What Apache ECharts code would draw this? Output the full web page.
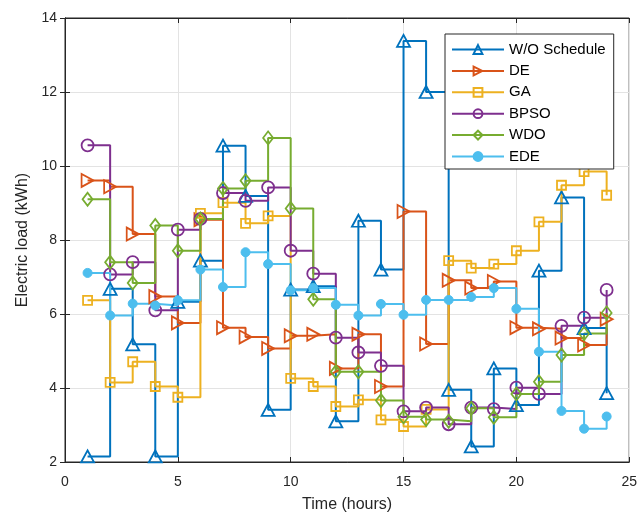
<!DOCTYPE html>
<html>
<head>
<meta charset="utf-8">
<script src="https://cdn.jsdelivr.net/npm/echarts@6/dist/echarts.min.js"></script>
<style>
  html, body { margin: 0; padding: 0; background: #fff; }
  #chart { width: 640px; height: 518px; }
</style>
</head>
<body>
<div id="chart"></div>
<script>
// hours 1..24
var hours = [1,2,3,4,5,6,7,8,9,10,11,12,13,14,15,16,17,18,19,20,21,22,23,24];

var woSchedule = [2.15, 6.68, 5.18, 2.15, 6.33, 7.44, 10.55, 9.19, 3.41, 6.66, 6.75, 3.1,
                  8.52, 7.2, 13.38, 12.0, 3.95, 2.42, 4.53, 3.54, 7.17, 9.15, 5.62, 3.86];
var de = [9.61, 9.44, 8.16, 6.47, 5.76, 8.55, 5.63, 5.38, 5.07, 5.41, 5.45, 4.53,
          5.45, 4.04, 8.77, 5.19, 6.91, 6.7, 6.88, 5.63, 5.6, 5.35, 5.16, 5.86];
var ga = [6.37, 4.15, 4.71, 4.04, 3.75, 8.72, 9.01, 8.45, 8.65, 4.26, 4.04, 3.5,
          3.68, 3.14, 2.96, 3.42, 7.44, 7.24, 7.35, 7.71, 8.49, 9.48, 9.85, 9.21];
var bpso = [10.56, 7.07, 7.4, 6.1, 8.28, 8.57, 9.27, 9.06, 9.42, 7.71, 7.09, 5.36,
            4.96, 4.6, 3.37, 3.47, 3.02, 3.47, 3.43, 4.01, 3.84, 5.68, 5.9, 6.65];
var wdo = [9.1, 7.4, 6.84, 8.39, 7.71, 8.57, 9.39, 9.6, 10.76, 8.85, 6.4, 4.44,
           4.44, 3.66, 3.22, 3.15, 3.1, 3.45, 3.21, 3.84, 4.17, 4.89, 5.47, 6.03];
var ede = [7.11, 5.96, 6.28, 6.23, 6.37, 7.2, 6.73, 7.67, 7.35, 6.64, 6.7, 6.25,
           5.96, 6.27, 5.98, 6.38, 6.38, 6.46, 6.7, 6.14, 4.98, 3.38, 2.9, 3.23];

var xTicks = [0, 5, 10, 15, 20, 25];
var yTicks = [2, 4, 6, 8, 10, 12, 14];

var font = 'Liberation Sans, Arial, Helvetica, sans-serif';
var ink = '#262626';

function pairs(vals) {
  return hours.map(function (h, i) { return [h, vals[i]]; });
}

// one stairs series (matlab style), hollow markers unless filled
function stairs(name, vals, color, symbol, size, rotate, filled) {
  return {
    name: name,
    type: 'line',
    step: 'end',
    data: pairs(vals),
    symbol: symbol,
    symbolSize: size,
    symbolRotate: rotate || 0,
    showAllSymbol: true,
    lineStyle: { color: color, width: 2 },
    itemStyle: filled
      ? { color: color, borderColor: color, borderWidth: 1 }
      : { color: 'rgba(0,0,0,0)', borderColor: color, borderWidth: 1.8 },
    emphasis: { disabled: true },
    animation: false
  };
}

var chart = echarts.init(document.getElementById('chart'));
chart.setOption({
  backgroundColor: '#fff',
  textStyle: { fontFamily: font },
  grid: {
    left: 65, right: 10, top: 18, bottom: 54,
    show: true, borderColor: ink, borderWidth: 1, backgroundColor: '#fff'
  },
  legend: {
    orient: 'vertical',
    left: 445, top: 34,
    backgroundColor: '#fff',
    borderColor: ink, borderWidth: 1, borderRadius: 0,
    padding: [8, 8, 5, 6],
    itemWidth: 52, itemHeight: 11, itemGap: 6.4,
    textStyle: { fontSize: 15, color: '#000', fontFamily: font },
    data: ['W/O Schedule', 'DE', 'GA', 'BPSO', 'WDO', 'EDE']
  },
  xAxis: [{
    type: 'value', min: xTicks[0], max: xTicks[xTicks.length - 1], interval: 5,
    name: 'Time (hours)', nameLocation: 'middle', nameGap: 35,
    nameTextStyle: { fontSize: 16, color: ink, fontFamily: font },
    axisLine: { show: true, lineStyle: { color: ink, width: 1 } },
    axisTick: { show: true, inside: true, length: 5, lineStyle: { color: ink } },
    axisLabel: { fontSize: 14, color: ink, margin: 13, fontFamily: font },
    splitLine: { show: true, lineStyle: { color: '#e3e3e3', width: 1 } }
  }, {
    type: 'value', position: 'top', min: 0, max: 25, interval: 5,
    axisLine: { show: true, lineStyle: { color: ink } },
    axisTick: { show: true, inside: true, length: 5, lineStyle: { color: ink } },
    axisLabel: { show: false }, splitLine: { show: false }
  }],
  yAxis: [{
    type: 'value', min: yTicks[0], max: yTicks[yTicks.length - 1], interval: 2,
    name: 'Electric load (kWh)', nameLocation: 'middle', nameGap: 34,
    nameTextStyle: { fontSize: 16, color: ink, fontFamily: font },
    axisLine: { show: true, lineStyle: { color: ink, width: 1 } },
    axisTick: { show: true, inside: true, length: 5, lineStyle: { color: ink } },
    axisLabel: { fontSize: 14, color: ink, margin: 8, fontFamily: font },
    splitLine: { show: true, lineStyle: { color: '#e3e3e3', width: 1 } }
  }, {
    type: 'value', position: 'right', min: 2, max: 14, interval: 2,
    axisLine: { show: true, lineStyle: { color: ink } },
    axisTick: { show: true, inside: true, length: 5, lineStyle: { color: ink } },
    axisLabel: { show: false }, splitLine: { show: false }
  }],
  series: [
    stairs('W/O Schedule', woSchedule, '#0072BD', 'triangle', [13, 12], 0, false),
    stairs('DE', de, '#D95319', 'triangle', [13, 12], -90, false),
    stairs('GA', ga, '#EDB120', 'rect', 9, 0, false),
    stairs('BPSO', bpso, '#7E2F8E', 'circle', 12, 0, false),
    stairs('WDO', wdo, '#77AC30', 'diamond', [10, 13], 0, false),
    stairs('EDE', ede, '#4DBEEE', 'circle', 9, 0, true)
  ]
});
</script>
</body>
</html>
